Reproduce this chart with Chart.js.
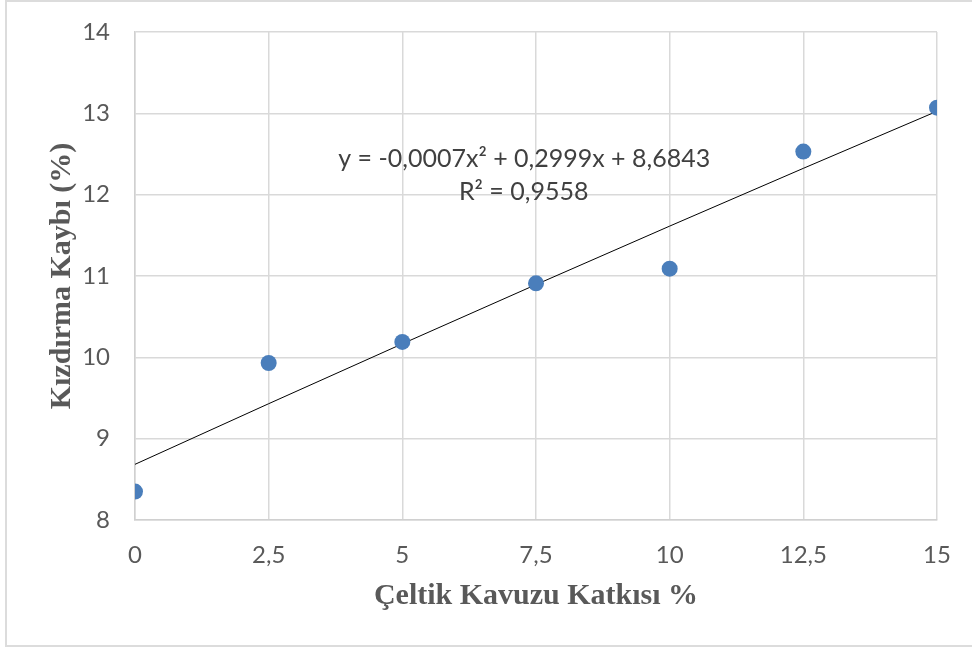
<!DOCTYPE html>
<html lang="tr">
<head>
<meta charset="utf-8">
<title>Kızdırma Kaybı</title>
<script src="https://cdn.jsdelivr.net/npm/chart.js@4"></script>
<style>
  html, body { margin: 0; padding: 0; background: #ffffff; overflow: hidden; }
  #wrap { position: relative; width: 972px; height: 653px; }
  #frame {
    position: absolute; left: 5px; top: 0px; width: 1000px; height: 647px;
    border: 2px solid #dcdcdc; box-sizing: border-box; pointer-events: none;
  }
  canvas { position: absolute; left: 0; top: 0; }
</style>
</head>
<body>
<div id="wrap">
  <canvas id="chart" width="972" height="653"></canvas>
  <div id="frame"></div>
</div>
<script>
// Rice husk addition (%) and measured loss on ignition (%)
const katki = [0, 2.5, 5, 7.5, 10, 12.5, 15];
const kizdirmaKaybi = [8.35, 9.93, 10.19, 10.91, 11.09, 12.53, 13.07];

// Polynomial trend line values at each addition level
const egilim = [8.6843, 9.4297, 10.1663, 10.8942, 11.6133, 12.3237, 13.0253];

// Axis tick labels (comma decimal separator)
const xTickLabels = ['0', '2,5', '5', '7,5', '10', '12,5', '15'];
const yTickLabels = ['8', '9', '10', '11', '12', '13', '14'];

// Trend equation text and its anchor in data units
const denklemSatirlari = ['y = -0,0007x² + 0,2999x + 8,6843', 'R² = 0,9558'];
const denklemKonumX = [7.28, 7.27];
const denklemKonumY = [12.44, 12.03];

const noktalar = katki.map((x, i) => ({ x: x, y: kizdirmaKaybi[i] }));
const egilimNoktalari = katki.map((x, i) => ({ x: x, y: egilim[i] }));

const denklemPlugin = {
  id: 'denklem',
  afterDatasetsDraw(chart) {
    const ctx = chart.ctx;
    const xs = chart.scales.x, ys = chart.scales.y;
    ctx.save();
    ctx.fillStyle = '#404040';
    ctx.font = '25px Lato, "Open Sans", sans-serif';
    ctx.textAlign = 'center';
    ctx.textBaseline = 'middle';
    denklemSatirlari.forEach((t, i) => {
      ctx.fillText(t, xs.getPixelForValue(denklemKonumX[i]), ys.getPixelForValue(denklemKonumY[i]));
    });
    ctx.restore();
  }
};

const beyazArkaPlan = {
  id: 'beyazArkaPlan',
  beforeDraw(chart) {
    const ctx = chart.ctx;
    ctx.save();
    ctx.fillStyle = '#ffffff';
    ctx.fillRect(0, 0, chart.width, chart.height);
    ctx.restore();
  }
};

new Chart(document.getElementById('chart'), {
  type: 'scatter',
  data: {
    datasets: [
      {
        label: 'Kızdırma Kaybı',
        data: noktalar,
        backgroundColor: '#4a7ebb',
        borderWidth: 0,
        pointRadius: 8,
        pointHoverRadius: 8,
        order: 1
      },
      {
        label: 'Polinom eğilim',
        data: egilimNoktalari,
        showLine: true,
        borderColor: '#000000',
        borderWidth: 1,
        pointRadius: 0,
        fill: false,
        tension: 0,
        order: 2
      }
    ]
  },
  options: {
    responsive: false,
    animation: false,
    events: [],
    layout: { padding: { left: 44, top: 32, right: 35, bottom: 39 } },
    plugins: {
      legend: { display: false },
      tooltip: { enabled: false }
    },
    scales: {
      x: {
        type: 'linear',
        min: 0, max: 15,
        afterBuildTicks(scale) {
          scale.ticks = katki.map(v => ({ value: v }));
        },
        afterFit(scale) {
          scale.height = 94;
          scale.paddingLeft = 0;
          scale.paddingRight = 0;
        },
        grid: { color: '#d9d9d9', lineWidth: 1.5, drawTicks: false },
        border: { color: '#d0d0d0', width: 1.5 },
        ticks: {
          padding: 21,
          color: '#595959',
          font: { family: 'Lato, "Open Sans", sans-serif', size: 24 },
          maxRotation: 0,
          callback: (v, i) => xTickLabels[i]
        },
        title: {
          display: true,
          text: 'Çeltik Kavuzu Katkısı %',
          color: '#595959',
          padding: 0,
          font: { family: '"Liberation Serif", "Times New Roman", serif', size: 30, weight: 'bold' }
        }
      },
      y: {
        type: 'linear',
        min: 8, max: 14,
        afterBuildTicks(scale) {
          scale.ticks = yTickLabels.map(t => ({ value: Number(t) }));
        },
        afterFit(scale) {
          scale.width = 91;
          scale.paddingTop = 0;
          scale.paddingBottom = 0;
        },
        grid: { color: '#d9d9d9', lineWidth: 1.5, drawTicks: false },
        border: { color: '#d0d0d0', width: 1.5 },
        ticks: {
          padding: 25,
          color: '#595959',
          font: { family: 'Lato, "Open Sans", sans-serif', size: 24 },
          callback: (v, i) => yTickLabels[i]
        },
        title: {
          display: true,
          text: 'Kızdırma Kaybı (%)',
          color: '#595959',
          padding: 0,
          font: { family: '"Liberation Serif", "Times New Roman", serif', size: 30, weight: 'bold' }
        }
      }
    }
  },
  plugins: [beyazArkaPlan, denklemPlugin]
});
</script>
</body>
</html>
